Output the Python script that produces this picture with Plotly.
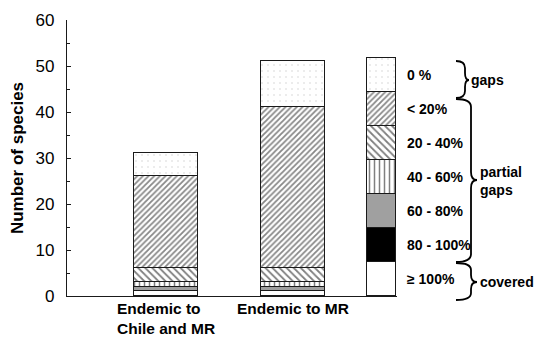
import plotly.graph_objects as go

# ---- data ----
categories = ["Endemic to<br>Chile and MR", "Endemic to MR"]
classes = ["≥ 100%", "80 - 100%", "60 - 80%", "40 - 60%", "20 - 40%", "< 20%", "0 %"]
chile_mr = [1, 0, 1, 1, 3, 20, 5]
mr_only = [1, 0, 1, 1, 3, 35, 10]
legend_heights = [7.4, 7.4, 7.4, 7.4, 7.4, 7.4, 7.4]
y_ticks = [0, 10, 20, 30, 40, 50, 60]

# ---- style ----
FONT = "Liberation Sans, Arial, sans-serif"
styles = [
    dict(color="white", pattern=dict(shape="")),
    dict(color="black", pattern=dict(shape="")),
    dict(color="#a0a0a0", pattern=dict(shape="")),
    dict(color="white", pattern=dict(shape="|", fgcolor="black", size=5, solidity=0.3)),
    dict(color="white", pattern=dict(shape="\\", fgcolor="black", size=5, solidity=0.35)),
    dict(color="white", pattern=dict(shape="/", fgcolor="#111111", size=4, solidity=0.45)),
    dict(color="white", pattern=dict(shape=".", fgcolor="#a8a8a8", size=6, solidity=0.06)),
]

# page offset (body margin) compensation
OFF = 8
W, H = 549 - OFF, 337 - OFF
L, R, T, B = 67 - OFF, 397 - OFF, 20 - OFF, 296 - OFF

def px(x):
    return (x - OFF - L) / (R - L)
def py(y):
    return (B - (y - OFF)) / (B - T)

bar_x = [1.55, 3.53]
leg_x = 4.91

fig = go.Figure()
for i, cls in enumerate(classes):
    st = styles[i]
    fig.add_trace(go.Bar(
        x=bar_x, y=[chile_mr[i], mr_only[i]], width=1.0,
        marker=dict(color=st["color"], pattern=st["pattern"],
                    line=dict(color="#1a1a1a", width=1.3)),
        showlegend=False, hoverinfo="skip"))
    fig.add_trace(go.Bar(
        x=[leg_x], y=[legend_heights[i]], width=0.46,
        marker=dict(color=st["color"], pattern=st["pattern"],
                    line=dict(color="#1a1a1a", width=1.3)),
        showlegend=False, hoverinfo="skip"))

# legend labels
cum = 0
for i, cls in enumerate(classes):
    fig.add_annotation(x=px(405), y=cum + legend_heights[i] / 2, xref="paper", yref="y",
                       text=f"<b>{cls}</b>", showarrow=False, xanchor="left", yanchor="middle",
                       font=dict(family=FONT, size=14, color="black"))
    cum += legend_heights[i]

# category labels
for xc, cat in zip(bar_x, categories):
    fig.add_annotation(x=xc, y=0, xref="x", yref="paper", yshift=-2,
                       text=f"<b>{cat}</b>", showarrow=False, xanchor="center", yanchor="top",
                       align="left", font=dict(family=FONT, size=15.5, color="black"))

def brace(x0, x1, x2, yt, ym, yb, r):
    pts = [
        f"M {px(x0)},{py(yt)}",
        f"Q {px(x1)},{py(yt)} {px(x1)},{py(yt + r)}",
        f"L {px(x1)},{py(ym - r)}",
        f"Q {px(x1)},{py(ym)} {px(x2)},{py(ym)}",
        f"Q {px(x1)},{py(ym)} {px(x1)},{py(ym + r)}",
        f"L {px(x1)},{py(yb - r)}",
        f"Q {px(x1)},{py(yb)} {px(x0)},{py(yb)}",
    ]
    return " ".join(pts)

brace_specs = [
    (456, 465, 469, 61, 80, 98, 7),
    (456, 471, 477, 99, 180, 262, 8),
    (456, 471, 477, 263, 282, 300, 7),
]
for s in brace_specs:
    fig.add_shape(type="path", path=brace(*s), xref="paper", yref="paper",
                  line=dict(color="black", width=1.8))

brace_labels = [("gaps", 469, 80), ("partial<br>gaps", 478, 181), ("covered", 478, 282)]
for txt, x, y in brace_labels:
    fig.add_annotation(x=px(x), y=py(y), xref="paper", yref="paper", text=f"<b>{txt}</b>",
                       showarrow=False, xanchor="left", yanchor="middle", align="left",
                       font=dict(family=FONT, size=14, color="black"))

fig.update_layout(
    barmode="stack", bargap=0,
    width=W, height=H,
    margin=dict(l=L, r=W - R, t=T, b=H - B, autoexpand=False),
    paper_bgcolor="white", plot_bgcolor="white",
    font=dict(family=FONT, color="black"),
    xaxis=dict(range=[0, 5.15], showline=True, linecolor="#1a1a1a", linewidth=1.3,
               showticklabels=False, ticks="", showgrid=False, zeroline=False,
               automargin=False),
    yaxis=dict(range=[0, 60], tickvals=y_ticks, showline=True, linecolor="#1a1a1a",
               linewidth=1.3, ticks="inside", ticklen=4, tickcolor="#1a1a1a",
               minor=dict(dtick=5, ticks="inside", ticklen=3, tickcolor="#1a1a1a"),
               showgrid=False, zeroline=False, tickfont=dict(family=FONT, size=17),
               ticklabelstandoff=8, automargin=False,
               title=dict(text="<b>Number of species</b>", font=dict(family=FONT, size=17),
                          standoff=8)),
)

fig.write_html("out.html")
